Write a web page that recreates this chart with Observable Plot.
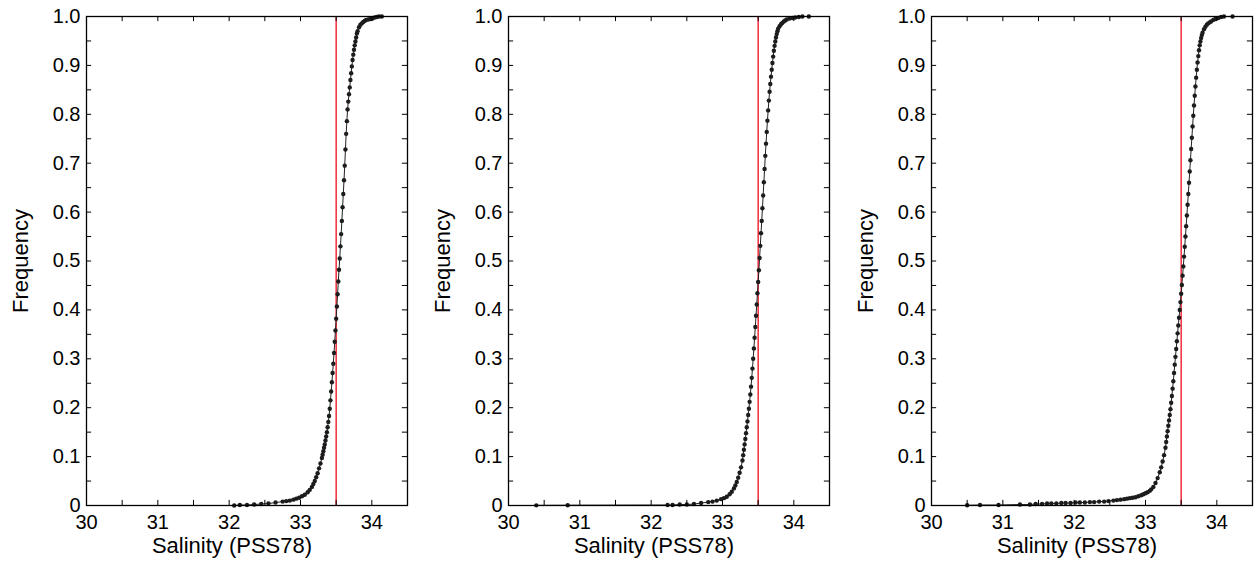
<!DOCTYPE html>
<html><head><meta charset="utf-8">
<script src="https://cdn.jsdelivr.net/npm/d3@7"></script>
<script src="https://cdn.jsdelivr.net/npm/@observablehq/plot@0.6"></script>
<style>
body{margin:0;background:#fff;overflow:hidden}
#wrap{position:relative;width:1255px;height:565px;overflow:hidden}
.p{position:absolute;top:0}
</style>
</head><body><div id="wrap"></div>
<script>
// Panel 1: salinity bins and cumulative frequency
const sal1 = [32.07,32.15,32.25,32.35,32.45,32.55,32.65,32.75,32.80,32.85,32.90,32.94,32.98,33.02,33.06,33.10,33.13,33.16,33.18,33.20,33.22,33.24,33.26,33.28,
  33.30,33.31,33.32,33.33,33.34,33.35,33.36,33.37,33.38,33.39,33.40,33.41,33.42,33.43,33.44,33.45,33.46,33.47,33.48,33.49,
  33.50,33.51,33.52,33.53,33.54,33.55,33.56,33.57,33.58,33.59,33.60,33.61,33.62,33.63,33.64,33.65,33.66,33.67,33.68,33.69,
  33.70,33.71,33.72,33.73,33.74,33.75,33.76,33.77,33.78,33.79,33.80,33.82,33.84,33.86,33.88,33.90,33.92,33.95,33.98,34.01,34.04,34.07,34.10,34.14];
const freq1 = [0.000,0.001,0.001,0.002,0.003,0.004,0.006,0.008,0.009,0.010,0.012,0.014,0.016,0.019,0.022,0.027,0.032,0.038,0.044,0.050,0.058,0.066,0.076,0.086,
  0.097,0.104,0.111,0.118,0.125,0.133,0.141,0.150,0.160,0.171,0.183,0.198,0.215,0.233,0.252,0.271,0.290,0.312,0.335,0.358,
  0.382,0.407,0.432,0.458,0.482,0.505,0.530,0.555,0.582,0.610,0.637,0.665,0.695,0.728,0.760,0.786,0.810,0.826,0.841,0.855,
  0.870,0.884,0.898,0.911,0.922,0.932,0.941,0.949,0.957,0.965,0.970,0.978,0.983,0.986,0.989,0.991,0.993,0.994,0.995,0.996,0.998,0.999,1.000,1.000];

// Panel 2
const sal2 = [30.39,30.83,32.23,32.30,32.40,32.50,32.60,32.70,32.80,32.86,32.92,32.98,33.02,33.06,33.10,33.13,33.16,33.18,33.20,33.22,33.24,33.26,
  33.28,33.29,33.30,33.31,33.32,33.33,33.34,33.35,33.36,33.37,33.38,33.39,33.40,33.41,33.42,33.43,33.44,33.45,33.46,33.47,33.48,33.49,
  33.50,33.51,33.52,33.53,33.54,33.55,33.56,33.57,33.58,33.59,33.60,33.61,33.62,33.63,33.64,33.65,33.66,33.67,33.68,33.69,
  33.70,33.71,33.72,33.73,33.74,33.75,33.76,33.77,33.78,33.80,33.82,33.84,33.86,33.88,33.90,33.94,33.98,34.02,34.07,34.12,34.21];
const freq2 = [0.0003,0.0006,0.001,0.001,0.002,0.002,0.003,0.005,0.007,0.008,0.010,0.013,0.015,0.018,0.023,0.028,0.035,0.041,0.048,0.057,0.067,0.078,
  0.092,0.103,0.114,0.125,0.136,0.148,0.160,0.172,0.185,0.198,0.212,0.227,0.243,0.261,0.280,0.300,0.321,0.343,0.365,0.388,0.411,0.434,
  0.457,0.481,0.506,0.531,0.557,0.582,0.608,0.634,0.661,0.688,0.715,0.740,0.764,0.787,0.808,0.828,0.846,0.862,0.877,0.891,
  0.905,0.918,0.930,0.940,0.949,0.957,0.964,0.970,0.975,0.980,0.984,0.987,0.990,0.992,0.994,0.996,0.997,0.998,0.999,1.000,1.000];

// Panel 3
const sal3 = [30.50,30.68,30.94,31.24,31.38,31.46,31.55,31.62,31.68,31.75,31.82,31.88,31.95,32.02,32.08,32.15,32.22,32.28,32.35,32.42,32.48,32.55,32.60,32.65,32.70,32.74,32.78,32.82,32.86,32.90,32.94,32.97,33.00,33.03,33.06,33.08,33.11,33.14,33.17,33.20,33.22,33.24,33.26,
  33.28,33.29,33.30,33.31,33.32,33.33,33.34,33.35,33.36,33.37,33.38,33.39,33.40,33.41,33.42,33.43,33.44,33.45,33.46,33.47,33.48,33.49,
  33.50,33.51,33.52,33.53,33.54,33.55,33.56,33.57,33.58,33.59,33.60,33.61,33.62,33.63,33.64,33.65,33.66,33.67,33.68,33.69,
  33.70,33.71,33.72,33.73,33.74,33.75,33.76,33.77,33.78,33.79,33.80,33.82,33.84,33.86,33.88,33.90,33.92,33.95,33.98,34.02,34.06,34.10,34.22];
const freq3 = [0.0005,0.001,0.001,0.002,0.002,0.003,0.003,0.004,0.004,0.004,0.005,0.005,0.005,0.006,0.006,0.006,0.007,0.007,0.008,0.008,0.009,0.010,0.011,0.012,0.013,0.014,0.015,0.016,0.017,0.019,0.021,0.023,0.025,0.027,0.030,0.033,0.038,0.046,0.056,0.068,0.078,0.090,0.103,
  0.118,0.130,0.141,0.152,0.163,0.174,0.185,0.197,0.210,0.224,0.239,0.254,0.271,0.288,0.304,0.320,0.336,0.352,0.368,0.384,0.400,0.416,
  0.433,0.451,0.470,0.489,0.509,0.529,0.550,0.571,0.593,0.615,0.637,0.660,0.683,0.706,0.729,0.752,0.775,0.797,0.818,0.838,
  0.857,0.875,0.891,0.906,0.919,0.931,0.941,0.949,0.956,0.962,0.967,0.974,0.979,0.983,0.986,0.988,0.990,0.993,0.995,0.997,0.999,1.000,1.000];

const salinityLists = [sal1, sal2, sal3];
const frequencyLists = [freq1, freq2, freq3];

const xTickLabels = [30, 31, 32, 33, 34];
const xMinorTicks = [30, 30.5, 31, 31.5, 32, 32.5, 33, 33.5, 34, 34.5];
const yTickLabels = [0, 0.1, 0.2, 0.3, 0.4, 0.5, 0.6, 0.7, 0.8, 0.9, 1.0];
const yMinorTicks = [0, 0.05, 0.1, 0.15, 0.2, 0.25, 0.3, 0.35, 0.4, 0.45, 0.5, 0.55, 0.6, 0.65, 0.7, 0.75, 0.8, 0.85, 0.9, 0.95, 1.0];
const referenceSalinity = [33.5];
const xLabel = "Salinity (PSS78)";
const yLabel = "Frequency";

const panelLeft = [0, 422, 845];
const font = "'Liberation Sans', Arial, Helvetica, sans-serif";
const wrap = document.getElementById("wrap");

for (let i = 0; i < 3; i++) {
  const data = salinityLists[i].map((s, j) => ({s, f: frequencyLists[i][j]}));
  const chart = Plot.plot({
    width: 423, height: 565,
    marginLeft: 86, marginRight: 16, marginTop: 16, marginBottom: 60,
    style: {fontFamily: font, background: "transparent", overflow: "visible"},
    x: {domain: [30, 34.5]},
    y: {domain: [0, 1]},
    marks: [
      Plot.ruleX(referenceSalinity, {x: d => d, stroke: "#ee1c2e", strokeWidth: 1.4}),
      Plot.line(data, {x: "s", y: "f", stroke: "#222", strokeWidth: 1}),
      Plot.dot(data, {x: "s", y: "f", r: 2.2, fill: "#1c1c1c", stroke: "none"}),
      // inward ticks on all sides
      Plot.ruleX(xMinorTicks, {x: d => d, y1: 0, y2: 0.0105, stroke: "#000", strokeWidth: 1}),
      Plot.ruleX(xMinorTicks, {x: d => d, y1: 1, y2: 0.9895, stroke: "#000", strokeWidth: 1}),
      Plot.ruleY(yMinorTicks, {y: d => d, x1: 30, x2: 30.072, stroke: "#000", strokeWidth: 1}),
      Plot.ruleY(yMinorTicks, {y: d => d, x1: 34.5, x2: 34.428, stroke: "#000", strokeWidth: 1}),
      Plot.frame({stroke: "#000", strokeWidth: 1.3}),
      Plot.axisX({ticks: xTickLabels, tickSize: 0, tickPadding: 9, fontSize: 20, label: null, tickFormat: d => String(d), fill: "#000"}),
      Plot.axisY({ticks: yTickLabels, tickSize: 0, tickPadding: 6, fontSize: 20, label: null, tickFormat: d => d === 0 ? "0" : d.toFixed(1), fill: "#000"}),
      Plot.text([xLabel], {text: d => d, frameAnchor: "bottom", textAnchor: "middle", dx: -15, dy: 47, fontSize: 22, fill: "#000"}),
      Plot.text([yLabel], {text: d => d, frameAnchor: "left", textAnchor: "middle", dx: -66, rotate: -90, fontSize: 22, fill: "#000"})
    ]
  });
  chart.classList.add("p");
  chart.style.left = panelLeft[i] + "px";
  wrap.appendChild(chart);
}
</script>
</body></html>
